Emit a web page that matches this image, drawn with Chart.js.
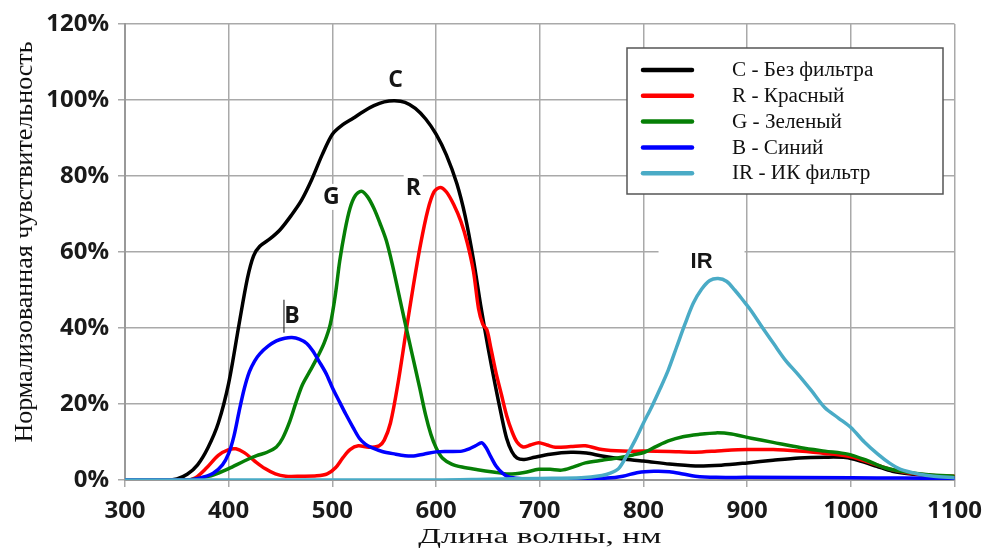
<!DOCTYPE html>
<html>
<head>
<meta charset="utf-8">
<script src="https://cdn.jsdelivr.net/npm/chart.js@4/dist/chart.umd.min.js"></script>
<style>
  html, body { margin: 0; padding: 0; background: #fff; }
  #wrap { width: 992px; height: 550px; position: relative; }
</style>
</head>
<body>
<div id="wrap"><canvas id="spectrum"></canvas></div>
<script>
// Spectral response, [wavelength nm, normalized %]
const curveC = [
  [300, 0], [340, 0], [350, 0.3], [360, 1.5], [370, 4], [380, 8.5], [390, 15], [400, 25.5],
  [410, 41], [418, 53], [424, 59], [430, 61.5], [440, 63.5], [450, 66], [460, 69.5],
  [470, 73.5], [480, 79], [490, 85.5], [500, 91], [510, 93.5], [520, 95.2], [530, 97],
  [540, 98.5], [550, 99.5], [560, 99.8], [570, 99.4], [580, 97.8], [590, 95], [600, 91],
  [610, 85.5], [620, 78], [628, 69.5], [636, 58], [643, 46], [650, 35], [657, 25],
  [663, 17], [668, 11], [673, 7.5], [678, 5.8], [685, 5.4], [695, 6], [710, 6.8],
  [730, 7.3], [745, 7.1], [760, 6.3], [780, 5.5], [800, 5], [825, 4.2], [850, 3.7],
  [875, 3.9], [900, 4.5], [925, 5.2], [950, 5.8], [975, 6], [995, 5.9], [1010, 4.9],
  [1025, 3.6], [1040, 2.3], [1060, 1.5], [1080, 1.1], [1100, 0.8]
];
const curveR = [
  [300, 0], [360, 0], [368, 0.6], [378, 3], [390, 6.5], [400, 8], [407, 8.2], [415, 7.2],
  [425, 5], [435, 3], [445, 1.6], [455, 1], [470, 1], [485, 1.1], [495, 1.6], [503, 3.2],
  [510, 5.8], [517, 8], [525, 9], [535, 8.6], [545, 9], [550, 10.5], [556, 15], [563, 25],
  [571, 39], [578, 51], [585, 62], [592, 71], [598, 75.8], [604, 77], [610, 75.8],
  [617, 72.5], [624, 68], [630, 62.5], [636, 55], [641, 45], [645, 41], [649, 39.5],
  [653, 34.5], [658, 28], [663, 22.5], [668, 17], [673, 12.9], [678, 10], [684, 8.7],
  [691, 9.2], [699, 9.8], [707, 9.2], [715, 8.6], [730, 8.8], [744, 9], [760, 8],
  [780, 7.6], [800, 7.6], [825, 7.5], [850, 7.3], [875, 7.7], [900, 8], [925, 8],
  [950, 7.6], [975, 7], [1000, 6.1], [1020, 4.4], [1040, 2.7], [1060, 1.7], [1080, 1.2],
  [1100, 1]
];
const curveG = [
  [300, 0], [360, 0], [372, 0.5], [385, 1.3], [400, 3], [415, 5], [427, 6.4], [437, 7.3],
  [446, 8.7], [452, 11], [459, 15.5], [465, 20.5], [471, 25], [478, 28.5], [485, 32],
  [492, 36], [498, 41], [503, 49], [507, 57.5], [512, 65.5], [517, 71.5], [522, 74.8],
  [528, 76], [534, 74.5], [540, 71.5], [546, 67.5], [552, 63], [558, 56.5], [564, 49],
  [570, 41.5], [577, 33], [584, 24.5], [590, 17], [595, 12], [600, 8.5], [606, 5.8],
  [615, 4.2], [625, 3.4], [640, 2.7], [655, 2.1], [670, 1.6], [685, 2], [699, 2.8],
  [710, 2.8], [721, 2.6], [732, 3.4], [744, 4.5], [760, 5.2], [775, 5.8], [790, 6.6],
  [801, 7.3], [812, 8.8], [824, 10.3], [838, 11.4], [853, 12], [870, 12.4], [885, 12.1],
  [904, 11], [925, 9.9], [952, 8.5], [975, 7.6], [997, 6.8], [1015, 5.2], [1032, 3.3],
  [1050, 2.2], [1075, 1.4], [1100, 1]
];
const curveB = [
  [300, 0], [360, 0], [372, 0.5], [385, 1.8], [394, 4], [400, 7], [405, 11.5], [410, 18],
  [415, 24], [420, 28.5], [425, 31.3], [430, 33.2], [438, 35.2], [446, 36.6], [454, 37.3],
  [461, 37.5], [468, 37.1], [475, 36], [481, 34], [487, 31.3], [494, 28], [500, 24.3],
  [507, 20.5], [513, 17.3], [520, 13.8], [526, 11], [532, 9.4], [538, 8.5], [548, 7.5],
  [561, 6.8], [570, 6.4], [577, 6.3], [588, 6.8], [600, 7.4], [612, 7.5], [625, 7.6],
  [632, 8.2], [638, 9], [644, 9.8], [648, 8.6], [653, 6], [658, 3.6], [664, 1.8],
  [670, 0.8], [680, 0.4], [700, 0.3], [740, 0.3], [765, 0.5], [780, 1], [795, 2],
  [810, 2.3], [825, 2.2], [838, 1.6], [850, 1], [870, 0.7], [900, 0.7], [1000, 0.6],
  [1050, 0.5], [1100, 0.4]
];
const curveIR = [
  [300, 0], [600, 0], [650, 0.2], [700, 0.4], [740, 0.6], [760, 1.2], [768, 1.8],
  [776, 3], [784, 6.5], [792, 10.5], [800, 15], [808, 19.3], [816, 24], [824, 29],
  [832, 35], [840, 41], [848, 46.5], [856, 50.2], [864, 52.5], [872, 53], [880, 52.3],
  [888, 50], [896, 47.3], [904, 44.5], [915, 40], [926, 35.7], [937, 31.5], [949, 27.8],
  [962, 23.5], [975, 19], [988, 16.3], [1000, 13.8], [1013, 10], [1026, 6.8], [1037, 4.5],
  [1048, 2.8], [1065, 1.6], [1080, 1], [1100, 0.6]
];

const seriesLabels = ['C - Без фильтра', 'R - Красный', 'G - Зеленый', 'B - Синий', 'IR - ИК фильтр'];
const seriesColors = ['#000000', '#ff0000', '#067f06', '#0000ff', '#4aabc6'];
const seriesCurves = [curveC, curveR, curveG, curveB, curveIR];
const xTicks = [300, 400, 500, 600, 700, 800, 900, 1000, 1100];
const yTicks = [0, 20, 40, 60, 80, 100, 120];

// letters placed next to each peak, in data units
const peakNotes = [
  { text: 'C', nm: 561, pct: 105.3, font: 'bold 23px "Open Sans"', padX: 4 },
  { text: 'G', nm: 499, pct: 74.5, font: 'bold 23px "Open Sans"', padX: 4 },
  { text: 'R', nm: 578, pct: 77, font: 'bold 23px "Open Sans"', padX: 2 },
  { text: 'B', nm: 461, pct: 43.2, font: 'bold 23px "Open Sans"', padX: 0 },
  { text: 'IR', nm: 856, pct: 57.6, font: 'bold 22px "Liberation Sans"', padX: 32 }
];

const peakNotesPlugin = {
  id: 'peakNotes',
  beforeDatasetsDraw(chart) {
    const { ctx, scales: { x, y } } = chart;
    ctx.save();
    ctx.textAlign = 'center';
    ctx.textBaseline = 'middle';
    peakNotes.forEach((n) => {
      const px = x.getPixelForValue(n.nm);
      const py = y.getPixelForValue(n.pct);
      ctx.font = n.font;
      const w = ctx.measureText(n.text).width;
      if (n.padX) {
        ctx.fillStyle = '#fff';
        ctx.fillRect(px - w / 2 - n.padX, py - 13, w + n.padX * 2, 26);
      }
      ctx.fillStyle = '#161616';
      ctx.fillText(n.text, px, py + 1);
      if (n.text === 'B') {
        // thin stroke left of the B
        ctx.strokeStyle = '#333';
        ctx.lineWidth = 1.2;
        ctx.beginPath();
        ctx.moveTo(px - 8, py - 16);
        ctx.lineTo(px - 8, py + 17);
        ctx.stroke();
      }
    });
    ctx.restore();
  }
};

const boxLegendPlugin = {
  id: 'boxLegend',
  afterDraw(chart) {
    const { ctx } = chart;
    const left = 627, top = 48, width = 316, height = 146;
    ctx.save();
    ctx.fillStyle = '#fff';
    ctx.fillRect(left, top, width, height);
    ctx.strokeStyle = '#555';
    ctx.lineWidth = 1.5;
    ctx.strokeRect(left, top, width, height);
    ctx.textBaseline = 'middle';
    chart.data.datasets.forEach((ds, i) => {
      const rowY = top + 22 + i * 25.8;
      ctx.strokeStyle = ds.borderColor;
      ctx.lineWidth = 4.5;
      ctx.lineCap = 'round';
      ctx.beginPath();
      ctx.moveTo(left + 16, rowY);
      ctx.lineTo(left + 65, rowY);
      ctx.stroke();
      ctx.save();
      ctx.translate(left + 105, rowY + 1);
      ctx.scale(1.06, 1);
      ctx.font = '20px "Liberation Serif"';
      ctx.fillStyle = '#111';
      ctx.fillText(ds.label, 0, 0);
      ctx.restore();
    });
    ctx.restore();
  }
};

const axisTitlesPlugin = {
  id: 'axisTitles',
  afterDraw(chart) {
    const { ctx, chartArea } = chart;
    ctx.save();
    ctx.fillStyle = '#111';
    ctx.textAlign = 'center';
    ctx.textBaseline = 'middle';
    // x title, set slightly wide
    ctx.font = '22px "Liberation Serif"';
    ctx.translate((chartArea.left + chartArea.right) / 2, 537);
    ctx.scale(1.52, 1);
    ctx.fillText('Длина волны, нм', 0, 0);
    ctx.setTransform(1, 0, 0, 1, 0, 0);
    ctx.font = '25px "Liberation Serif"';
    ctx.translate(25, 242);
    ctx.rotate(-Math.PI / 2);
    ctx.scale(1.04, 1);
    ctx.fillText('Нормализованная чувствительность', 0, 0);
    ctx.restore();
  }
};

const createChart = (ctx) => {
  const datasets = seriesCurves.map((curve, i) => ({
    label: seriesLabels[i],
    data: curve.map(([nm, pct]) => ({ x: nm, y: pct })),
    borderColor: seriesColors[i],
    backgroundColor: seriesColors[i],
    borderWidth: 3.5,
    borderCapStyle: 'round',
    borderJoinStyle: 'round',
    pointRadius: 0,
    tension: 0.3,
    order: seriesCurves.length - 1 - i,
  }));

  const tickFont = { family: '"Open Sans"', size: 24, weight: 'bold' };
  const gridStyle = { color: '#a9a9a9', lineWidth: 1.5, tickLength: 7 };

  return new Chart(ctx, {
    type: 'line',
    data: { datasets },
    options: {
      responsive: false,
      animation: false,
      layout: { padding: { top: 24, right: 35, left: 0, bottom: 0 } },
      plugins: { legend: { display: false }, tooltip: { enabled: false } },
      scales: {
        x: {
          type: 'linear',
          min: xTicks[0],
          max: xTicks[xTicks.length - 1],
          afterBuildTicks: (scale) => { scale.ticks = xTicks.map((v) => ({ value: v })); },
          afterFit: (scale) => { scale.height = 70; },
          ticks: { font: tickFont, color: '#1a1a1a', padding: 10, maxRotation: 0, callback: (v) => String(v) },
          grid: gridStyle,
          border: { color: '#999', width: 2 },
        },
        y: {
          min: yTicks[0],
          max: yTicks[yTicks.length - 1],
          afterBuildTicks: (scale) => { scale.ticks = yTicks.map((v) => ({ value: v })); },
          afterFit: (scale) => { scale.width = 125; },
          ticks: { font: tickFont, color: '#1a1a1a', padding: 9, callback: (v) => v + '%' },
          grid: gridStyle,
          border: { color: '#999', width: 2 },
        },
      },
    },
    plugins: [peakNotesPlugin, boxLegendPlugin, axisTitlesPlugin],
  });
};

const canvas = document.getElementById('spectrum');
canvas.width = 992;
canvas.height = 550;
createChart(canvas.getContext('2d'));
</script>
</body>
</html>
